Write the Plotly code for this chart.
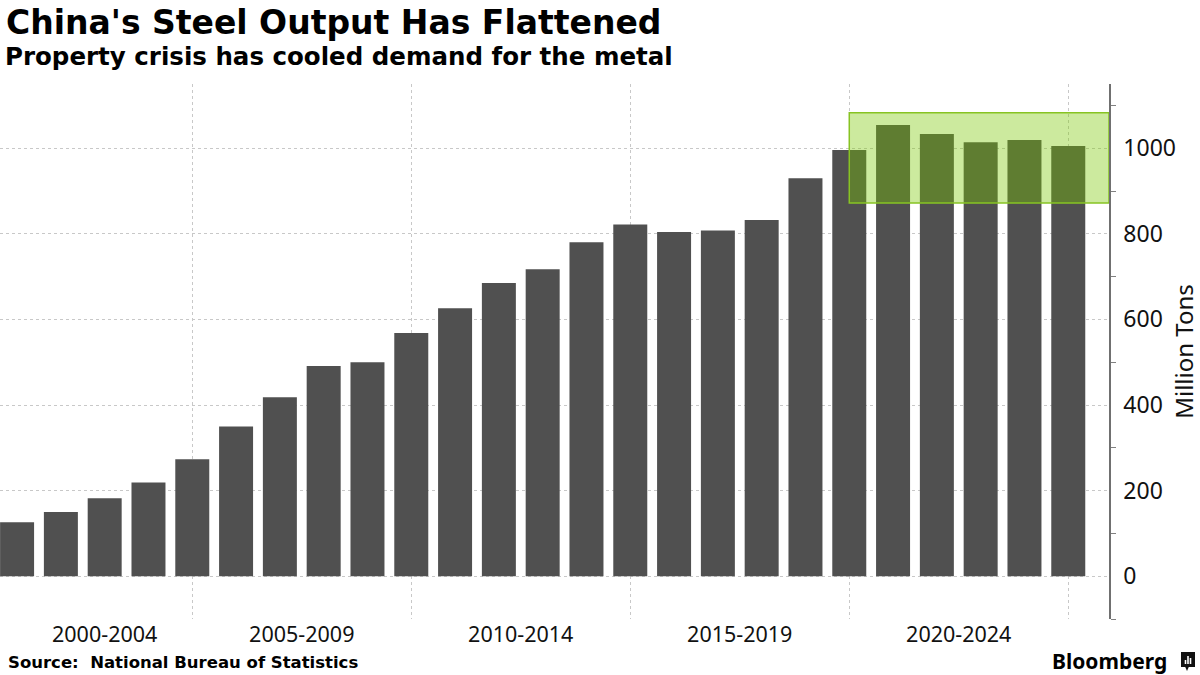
import plotly.graph_objects as go

years = list(range(2000, 2025))
output_mt = [126, 150, 182, 219, 273, 350, 418, 491, 500, 568,
             626, 685, 717, 780, 822, 804, 808, 832, 930, 996,
             1054, 1033, 1014, 1019, 1005]
group_labels = ["2000-2004", "2005-2009", "2010-2014", "2015-2019", "2020-2024"]
group_label_pos = [2002, 2006.5, 2011.5, 2016.5, 2021.5]
y_ticks = [0, 200, 400, 600, 800, 1000]
highlight_start = 2019
highlight_low, highlight_high = 872, 1083

W, H = 1200, 675
PL, PR = 0, 1109   # plot left/right in px
PT, PB = 84, 619   # plot top/bottom in px
PW, PH = PR - PL, PB - PT
X_MIN, X_MAX = 1999.61, 2024.93


def py(p):
    return (PB - p) / PH


def px(p):
    return (p - PL) / PW


fig = go.Figure()
fig.add_trace(go.Bar(x=years, y=output_mt, marker=dict(color="#505050", line=dict(width=0)),
                     width=0.776, hoverinfo="x+y"))

# arrow-shaped major ticks on the right axis
tick_x = X_MAX + 3.5 * (X_MAX - X_MIN) / PW
fig.add_trace(go.Scatter(x=[tick_x] * len(y_ticks), y=y_ticks, mode="markers", cliponaxis=False,
                         marker=dict(symbol="triangle-right", size=8, color="#555555", line=dict(width=0)),
                         hoverinfo="skip"))

fig.add_shape(type="rect", xref="x", yref="y", x0=highlight_start, x1=X_MAX, y0=highlight_low, y1=highlight_high,
              fillcolor="rgba(122,200,0,0.38)", line=dict(color="rgb(135,195,35)", width=1.5), layer="above")

fig.update_layout(
    width=W, height=H,
    margin=dict(l=PL, r=W - PR, t=PT, b=H - PB, autoexpand=False),
    plot_bgcolor="white", paper_bgcolor="white",
    showlegend=False,
    xaxis=dict(range=[X_MIN, X_MAX], tickmode="array", tickvals=group_label_pos, ticktext=group_labels,
               showgrid=False, zeroline=False, showline=False, ticks="",
               tickfont=dict(family="Noto Sans", size=21.5, color="#111"),
               minor=dict(tickmode="linear", tick0=2004, dtick=5, showgrid=True, gridcolor="#c8c8c8",
                          griddash="dot", gridwidth=1, ticks="")),
    yaxis=dict(range=[-100, 1150], side="right", tickvals=y_ticks, showgrid=True, gridcolor="#c8c8c8",
               griddash="dot", gridwidth=1, zeroline=False, showline=True, linecolor="#707070", linewidth=1.5,
               ticks="outside", ticklen=8, tickwidth=0.01, tickcolor="rgba(0,0,0,0)",
               tickfont=dict(family="Noto Sans", size=23, color="#111"),
               minor=dict(tickmode="linear", tick0=-100, dtick=200, ticks="outside", ticklen=5,
                          tickcolor="#808080", tickwidth=1, showgrid=False),
               title=dict(text="Million Tons", font=dict(family="Noto Sans", size=24, color="#111"), standoff=11)),
    annotations=[
        dict(text="China's Steel Output Has Flattened", x=px(4), y=py(23), xref="paper", yref="paper",
             xanchor="left", yanchor="middle", showarrow=False,
             font=dict(family="DejaVu Sans", size=33, color="#000", weight="bold")),
        dict(text="Property crisis has cooled demand for the metal", x=px(3), y=py(56), xref="paper", yref="paper",
             xanchor="left", yanchor="middle", showarrow=False,
             font=dict(family="DejaVu Sans", size=24.5, color="#000", weight="bold")),
        dict(text="Source:  National Bureau of Statistics", x=px(6), y=py(662), xref="paper", yref="paper",
             xanchor="left", yanchor="middle", showarrow=False,
             font=dict(family="DejaVu Sans", size=16.5, color="#000", weight="bold")),
        dict(text="Bloomberg", x=px(1169), y=py(661), xref="paper", yref="paper",
             xanchor="right", yanchor="middle", showarrow=False,
             font=dict(family="Noto Sans", size=21, color="#000", weight="bold")),
    ],
)
# Bloomberg logo mark
fig.add_shape(type="rect", xref="paper", yref="paper", x0=px(1181), x1=px(1195), y0=py(667), y1=py(652),
              fillcolor="#111", line=dict(width=0))
fig.add_shape(type="path", xref="paper", yref="paper",
              path=f"M {px(1185)} {py(666.5)} L {px(1187)} {py(671)} L {px(1189)} {py(666.5)} Z",
              fillcolor="#111", line=dict(width=0))
for bx, btop in [(1185.5, 660), (1188, 656), (1190.5, 658)]:
    fig.add_shape(type="line", xref="paper", yref="paper", x0=px(bx), x1=px(bx), y0=py(664), y1=py(btop),
                  line=dict(color="white", width=1.6))

fig.write_html("out.html", config={"displayModeBar": False},
               post_script="document.body.style.margin='0';document.body.style.overflow='hidden';")
